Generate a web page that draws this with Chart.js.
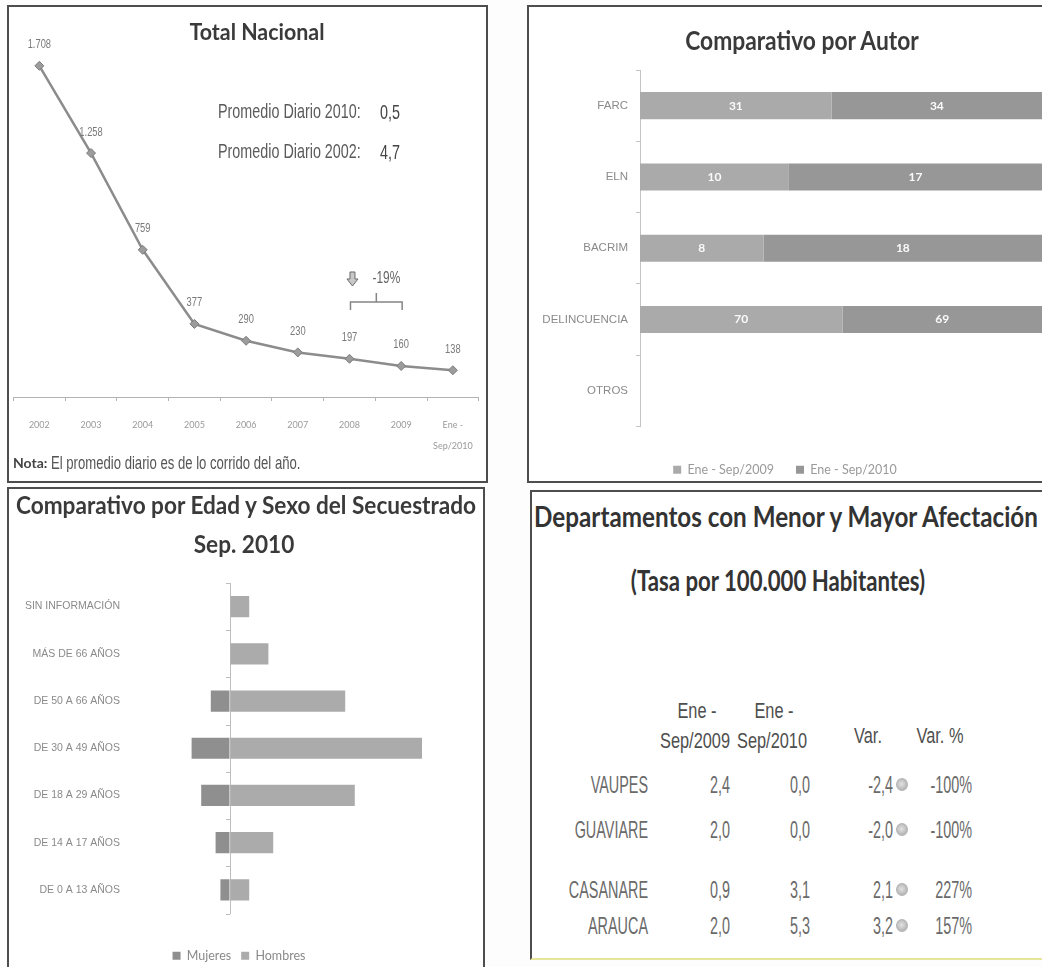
<!DOCTYPE html>
<html>
<head>
<meta charset="utf-8">
<script src="https://cdn.jsdelivr.net/npm/chart.js@4.4.0/dist/chart.umd.min.js"></script>
<style>
  html, body { margin: 0; padding: 0; width: 1042px; height: 967px; overflow: hidden; background: #fdfdfd; }
  .panel { position: absolute; border: 2px solid #4d4d4d; box-sizing: border-box; background: #fff; }
  .txt { position: absolute; white-space: nowrap; line-height: 1; }
  canvas { position: absolute; }
</style>
</head>
<body>

<div class="panel" style="left:7px;top:5px;width:481px;height:478px"></div>
<div class="panel" style="left:527px;top:5px;width:530px;height:478px"></div>
<div class="panel" style="left:7px;top:487px;width:478px;height:500px"></div>
<div class="panel" style="left:530px;top:490px;width:530px;height:470px;border-bottom-color:#e6e69a"></div>

<canvas id="totalNacional" width="479" height="476" style="left:8px;top:6px"></canvas>
<canvas id="porAutor" width="514" height="480" style="left:528px;top:6px"></canvas>
<canvas id="edadSexo" width="476" height="484" style="left:8px;top:488px"></canvas>

<script>
// --- datos ---
const anos = ['2002', '2003', '2004', '2005', '2006', '2007', '2008', '2009', ['Ene -', 'Sep/2010']];
const totalNacional = [1708, 1258, 759, 377, 290, 230, 197, 160, 138];

const autores = ['FARC', 'ELN', 'BACRIM', 'DELINCUENCIA', 'OTROS'];
const autor2009 = [31, 10, 8, 70, null];
const autor2010 = [34, 17, 18, 69, null];

const edades = ['SIN INFORMACIÓN', 'MÁS DE 66 AÑOS', 'DE 50 A 66 AÑOS', 'DE 30 A 49 AÑOS',
                'DE 18 A 29 AÑOS', 'DE 14 A 17 AÑOS', 'DE 0 A 13 AÑOS'];
const mujeres = [0, 0, 4, 8, 6, 3, 2];
const hombres = [4, 8, 24, 40, 26, 9, 4];

const departamentos = ['VAUPES', 'GUAVIARE', 'CASANARE', 'ARAUCA'];
const tasa2009 = [2.4, 2.0, 0.9, 2.0];
const tasa2010 = [0.0, 0.0, 3.1, 5.3];
const variacion = [-2.4, -2.0, 2.1, 3.2];
const variacionPct = [-100, -100, 227, 157];

const SANS = '"Liberation Sans", Arial, sans-serif';
const LATO = 'Lato, "Open Sans", sans-serif';

function miles(n) { return String(n).replace(/\B(?=(\d{3})+(?!\d))/g, '.'); }
function coma(n) { return n.toFixed(1).replace('.', ','); }

// texto html posicionado (sx/sy para imitar la letra angosta)
function put(txt, x, y, o) {
  o = o || {};
  const d = document.createElement('div');
  d.className = 'txt';
  d.textContent = txt;
  d.style.left = x + 'px';
  d.style.top = y + 'px';
  d.style.fontFamily = o.family || SANS;
  d.style.fontSize = (o.size || 14) + 'px';
  d.style.fontWeight = o.weight || 'normal';
  d.style.color = o.color || '#555';
  const ax = o.align === 'c' ? '-50%' : o.align === 'r' ? '-100%' : '0';
  const ox = o.align === 'c' ? 'center' : o.align === 'r' ? 'right' : 'left';
  d.style.transformOrigin = ox + ' center';
  d.style.transform = 'translate(' + ax + ',-50%) scale(' + (o.sx || 1) + ',' + (o.sy || 1) + ')';
  document.body.appendChild(d);
  return d;
}

const mctx = document.createElement('canvas').getContext('2d');
function fitSize(txt, family, weight, width) {
  mctx.font = weight + ' 100px ' + family;
  return 100 * width / mctx.measureText(txt).width;
}

// --- titulos y textos ---
let s = fitSize('Total Nacional', LATO, 'bold', 135);
put('Total Nacional', 257, 32, { family: LATO, weight: 'bold', size: s, color: '#3a3a3a', align: 'c', sy: 1.1 });
const prom = { size: 17.5, color: '#5a5a5a', sx: 0.82, sy: 1.2 };
put('Promedio Diario 2010:', 218, 112, prom);
put('0,5', 380, 113, Object.assign({}, prom, { color: '#444' }));
put('Promedio Diario 2002:', 218, 152, prom);
put('4,7', 380, 153, Object.assign({}, prom, { color: '#444' }));
put('Nota:', 13, 463, { family: LATO, weight: 'bold', size: 14, color: '#444' });
put('El promedio diario es de lo corrido del año.', 51, 463, { size: 16, color: '#555', sx: 0.82, sy: 1.1 });

s = fitSize('Comparativo por Autor', LATO, 'bold', 235);
put('Comparativo por Autor', 802, 40, { family: LATO, weight: 'bold', size: s, color: '#3a3a3a', align: 'c', sy: 1.15 });

s = fitSize('Comparativo por Edad y Sexo del Secuestrado', LATO, 'bold', 462);
put('Comparativo por Edad y Sexo del Secuestrado', 246, 506, { family: LATO, weight: 'bold', size: s, color: '#3a3a3a', align: 'c', sy: 1.1 });
put('Sep. 2010', 244, 545, { family: LATO, weight: 'bold', size: s, color: '#3a3a3a', align: 'c', sy: 1.1 });

s = fitSize('Departamentos con Menor y Mayor Afectación', LATO, 'bold', 507);
put('Departamentos con Menor y Mayor Afectación', 786, 516, { family: LATO, weight: 'bold', size: s, color: '#333', align: 'c', sy: 1.2 });
const s2 = fitSize('(Tasa por 100.000 Habitantes)', LATO, 'bold', 295);
put('(Tasa por 100.000 Habitantes)', 778, 581, { family: LATO, weight: 'bold', size: s2, color: '#333', align: 'c', sy: 1.3 });

// --- tabla departamentos ---
const hdr = { size: 19, color: '#4e4e4e', align: 'c', sx: 0.86, sy: 1.2 };
put('Ene -', 697, 710, hdr);
put('Sep/2009', 695, 740, hdr);
put('Ene -', 774, 710, hdr);
put('Sep/2010', 772, 740, hdr);
put('Var.', 868, 735, hdr);
put('Var. %', 940, 735, hdr);

const filasY = [785, 830, 890, 926];
departamentos.forEach((d, i) => {
  const y = filasY[i];
  const o = { size: 18, color: '#6a6a6a', align: 'r', sx: 0.8, sy: 1.3 };
  put(d, 648, y, o);
  put(coma(tasa2009[i]), 730, y, o);
  put(coma(tasa2010[i]), 810, y, o);
  put(coma(variacion[i]), 893, y, o);
  put(variacionPct[i] + '%', 972, y, o);
  const dot = document.createElement('div');
  dot.style.cssText = 'position:absolute;width:12px;height:13px;border-radius:50%;left:896px;top:' + (y - 7) +
    'px;background:radial-gradient(circle at 45% 45%,#e2e2e2,#a4a4a4);border:1px solid #b4b4b4;box-sizing:border-box';
  document.body.appendChild(dot);
});

// --- plugins ---
const etiquetasPuntos = {
  id: 'etiquetasPuntos',
  afterDatasetsDraw(chart) {
    const ctx = chart.ctx;
    chart.getDatasetMeta(0).data.forEach((pt, i) => {
      ctx.save();
      ctx.translate(pt.x, pt.y - 21);
      ctx.scale(0.85, 1.15);
      ctx.font = '11px ' + SANS;
      ctx.fillStyle = '#7a7a7a';
      ctx.textAlign = 'center';
      ctx.textBaseline = 'middle';
      ctx.fillText(miles(totalNacional[i]), 0, 0);
      ctx.restore();
    });
  }
};

const llave = {
  id: 'llave',
  afterDraw(chart) {
    const x = chart.scales.x, y = chart.scales.y, ctx = chart.ctx;
    const x1 = x.getPixelForValue(6) + 1, x2 = x.getPixelForValue(7) + 1, xm = (x1 + x2) / 2;
    const by = y.getPixelForValue(490);
    ctx.save();
    ctx.strokeStyle = '#858585';
    ctx.lineWidth = 1.5;
    ctx.beginPath();
    ctx.moveTo(x1, by + 8); ctx.lineTo(x1, by); ctx.lineTo(x2, by); ctx.lineTo(x2, by + 8);
    ctx.moveTo(xm, by); ctx.lineTo(xm, by - 9);
    ctx.stroke();
    // flecha
    const ax = x1 + 2, top = by - 30;
    ctx.beginPath();
    ctx.moveTo(ax - 2.5, top); ctx.lineTo(ax + 2.5, top); ctx.lineTo(ax + 2.5, top + 7);
    ctx.lineTo(ax + 5.5, top + 7); ctx.lineTo(ax, top + 14); ctx.lineTo(ax - 5.5, top + 7);
    ctx.lineTo(ax - 2.5, top + 7); ctx.closePath();
    ctx.fillStyle = '#c8c8c8'; ctx.fill();
    ctx.lineWidth = 1; ctx.strokeStyle = '#6a6a6a'; ctx.stroke();
    ctx.translate(x1 + 22, by - 24);
    ctx.scale(0.85, 1.2);
    ctx.font = '14px ' + SANS;
    ctx.fillStyle = '#666';
    ctx.textBaseline = 'middle';
    ctx.fillText('-19%', 0, 0);
    ctx.restore();
  }
};

const etiquetasBarras = {
  id: 'etiquetasBarras',
  afterDatasetsDraw(chart) {
    const ctx = chart.ctx;
    ctx.save();
    ctx.font = 'bold 12px ' + LATO;
    ctx.fillStyle = '#fafafa';
    ctx.textAlign = 'center';
    ctx.textBaseline = 'middle';
    chart.data.datasets.forEach((ds, di) => {
      chart.getDatasetMeta(di).data.forEach((el, i) => {
        const v = ds.conteo[i];
        if (!v) return;
        const p = el.getCenterPoint();
        ctx.fillText(v, p.x, p.y);
      });
    });
    ctx.restore();
  }
};

const ejeCero = {
  id: 'ejeCero',
  afterDraw(chart) {
    const ctx = chart.ctx, a = chart.chartArea;
    const x0 = chart.scales.x.getPixelForValue(0);
    const n = chart.data.labels.length, step = (a.bottom - a.top) / n;
    ctx.save();
    ctx.strokeStyle = '#bdbdbd';
    ctx.lineWidth = 1;
    ctx.beginPath();
    for (let k = 0; k <= n; k++) {
      const yy = Math.round(a.top + k * step) + 0.5;
      ctx.moveTo(x0 - 4, yy); ctx.lineTo(x0, yy);
    }
    ctx.stroke();
    ctx.restore();
  }
};

// --- Total Nacional ---
new Chart(document.getElementById('totalNacional'), {
  type: 'line',
  data: {
    labels: anos,
    datasets: [{
      data: totalNacional,
      borderColor: '#8c8c8c',
      borderWidth: 2.5,
      pointStyle: 'rectRot',
      pointRadius: 4.5,
      pointBackgroundColor: '#9c9c9c',
      pointBorderColor: '#7c7c7c',
      pointBorderWidth: 1,
      tension: 0
    }]
  },
  options: {
    responsive: false,
    animation: false,
    layout: { padding: { top: 42, left: 4, right: 7, bottom: 0 } },
    plugins: { legend: { display: false }, tooltip: { enabled: false } },
    scales: {
      x: {
        offset: true,
        grid: { offset: true, drawOnChartArea: false, tickLength: 4, color: '#b4b4b4' },
        border: { color: '#b4b4b4' },
        ticks: { font: { family: LATO, size: 9, lineHeight: 2.3 }, color: '#9a9a9a', padding: 14, maxRotation: 0, autoSkip: false },
        afterFit: (sc) => { sc.height = 85; }
      },
      y: { display: false, min: 0, max: 1800 }
    }
  },
  plugins: [etiquetasPuntos, llave]
});

// --- Comparativo por Autor (100% apilado) ---
const pct2009 = autor2009.map((v, i) => v == null ? null : v / (v + autor2010[i]) * 100);
const pct2010 = autor2010.map((v, i) => v == null ? null : v / (v + autor2009[i]) * 100);

new Chart(document.getElementById('porAutor'), {
  type: 'bar',
  data: {
    labels: autores,
    datasets: [
      { label: 'Ene - Sep/2009', data: pct2009, conteo: autor2009, backgroundColor: '#aaaaaa' },
      { label: 'Ene - Sep/2010', data: pct2010, conteo: autor2010, backgroundColor: '#979797' }
    ]
  },
  options: {
    indexAxis: 'y',
    responsive: false,
    animation: false,
    categoryPercentage: 1,
    barPercentage: 0.38,
    layout: { padding: { top: 64, left: 0, right: 0, bottom: 0 } },
    plugins: {
      legend: {
        position: 'bottom',
        labels: { boxWidth: 8, boxHeight: 8, padding: 22, color: '#9a9a9a', font: { family: LATO, size: 12.5 } }
      },
      tooltip: { enabled: false }
    },
    scales: {
      x: {
        stacked: true, min: 0, max: 100,
        ticks: { display: false }, grid: { display: false }, border: { display: false },
        afterFit: (sc) => { sc.height = 15; }
      },
      y: {
        stacked: true,
        grid: { offset: true, drawOnChartArea: false, tickLength: 4, color: '#c4c4c4' },
        border: { color: '#c4c4c4' },
        ticks: { font: { family: SANS, size: 11.5 }, color: '#8a8a8a', padding: 8 },
        afterFit: (sc) => { sc.width = 112; }
      }
    }
  },
  plugins: [etiquetasBarras]
});

// --- Edad y Sexo ---
new Chart(document.getElementById('edadSexo'), {
  type: 'bar',
  data: {
    labels: edades,
    datasets: [
      { label: 'Mujeres', data: mujeres.map(v => -v), backgroundColor: '#8f8f8f' },
      { label: 'Hombres', data: hombres, backgroundColor: '#ababab' }
    ]
  },
  options: {
    indexAxis: 'y',
    responsive: false,
    animation: false,
    categoryPercentage: 1,
    barPercentage: 0.45,
    layout: { padding: { top: 95, left: 0, right: 14, bottom: 0 } },
    plugins: {
      legend: {
        position: 'bottom',
        labels: { boxWidth: 8, boxHeight: 8, padding: 10, color: '#8a8a8a', font: { family: LATO, size: 12.5 } }
      },
      tooltip: { enabled: false }
    },
    scales: {
      x: {
        stacked: true, min: -20, max: 50,
        ticks: { display: false, stepSize: 10 },
        grid: { drawTicks: false, color: (c) => (c.tick && c.tick.value === 0) ? '#bdbdbd' : 'rgba(0,0,0,0)' },
        border: { display: false },
        afterFit: (sc) => { sc.height = 26; }
      },
      y: {
        stacked: true,
        grid: { display: false, drawTicks: false },
        border: { display: false },
        ticks: { font: { family: SANS, size: 10.5 }, color: '#8a8a8a', padding: 14 },
        afterFit: (sc) => { sc.width = 126; }
      }
    }
  },
  plugins: [ejeCero]
});
</script>
</body>
</html>
